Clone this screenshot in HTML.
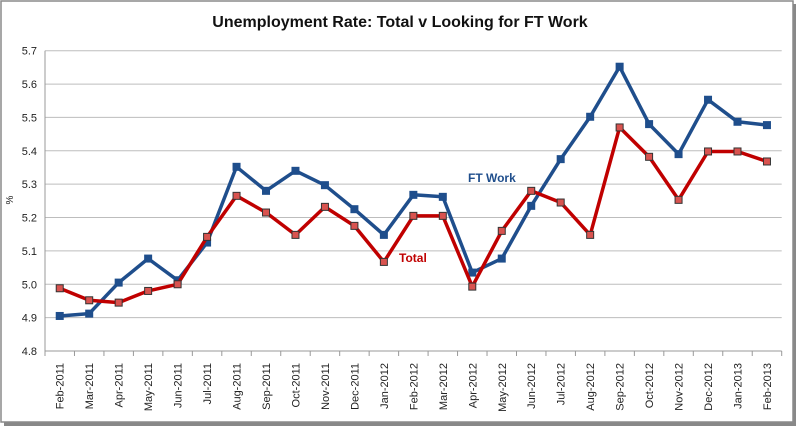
<!DOCTYPE html>
<html><head><meta charset="utf-8"><style>
body{margin:0;background:#fff;width:800px;height:430px;overflow:hidden}
svg{font-family:"Liberation Sans",sans-serif}
</style></head><body>
<svg id="c" width="800" height="430" xmlns="http://www.w3.org/2000/svg">
<rect x="4" y="4" width="792" height="422" fill="#888"/>
<rect x="1" y="1" width="792" height="421" fill="#fff" stroke="#8a8a8a" stroke-width="1.5"/>
<text x="400" y="27" text-anchor="middle" font-size="16" font-weight="bold" fill="#111">Unemployment Rate: Total v Looking for FT Work</text>
<text transform="translate(13,200) rotate(-90)" text-anchor="middle" font-size="10" fill="#222">%</text>
<text x="468" y="182" font-size="12" font-weight="bold" fill="#1f4e8c">FT Work</text>
<text x="399" y="262" font-size="12" font-weight="bold" fill="#c00000">Total</text>
</svg>
<script>
var s=document.getElementById('c'),ns='http://www.w3.org/2000/svg';
function el(n,a){var e=document.createElementNS(ns,n);for(var k in a)e.setAttribute(k,a[k]);s.appendChild(e);return e;}
var L=45,R=781.7,T=50.7,B=351,n=25,w=(R-L)/n;
function Y(v){return B-(v-4.8)/0.9*(B-T);}
for(var i=0;i<=9;i++){var v=4.8+i*0.1,y=Y(v);
 if(i>0)el('line',{x1:L,x2:R,y1:y,y2:y,stroke:'#bdbdbd','stroke-width':1});
 var t=el('text',{x:L-8,y:y+4,'text-anchor':'end','font-size':11,fill:'#222'});t.textContent=v.toFixed(1);}
el('line',{x1:L,x2:L,y1:T,y2:B,stroke:'#999'});el('line',{x1:L,x2:R,y1:B,y2:B,stroke:'#999'});
var m=['Feb-2011','Mar-2011','Apr-2011','May-2011','Jun-2011','Jul-2011','Aug-2011','Sep-2011','Oct-2011','Nov-2011','Dec-2011','Jan-2012','Feb-2012','Mar-2012','Apr-2012','May-2012','Jun-2012','Jul-2012','Aug-2012','Sep-2012','Oct-2012','Nov-2012','Dec-2012','Jan-2013','Feb-2013'];
for(var i=0;i<=n;i++){var x=L+i*w;el('line',{x1:x,x2:x,y1:B,y2:B+5,stroke:'#999'});}
m.forEach(function(l,i){var x=L+(i+.5)*w+4;var t=el('text',{transform:'translate('+x+',363) rotate(-90)','text-anchor':'end','font-size':11,fill:'#222'});t.textContent=l;});
var ft=[4.905,4.912,5.005,5.077,5.012,5.125,5.352,5.28,5.34,5.297,5.225,5.148,5.268,5.262,5.035,5.077,5.235,5.375,5.502,5.652,5.48,5.39,5.553,5.487,5.477];
var tot=[4.988,4.952,4.945,4.98,5.0,5.142,5.265,5.215,5.148,5.232,5.175,5.067,5.205,5.205,4.993,5.16,5.28,5.245,5.148,5.47,5.382,5.253,5.398,5.398,5.368];
function ser(d,c,mf,ms){var p=d.map(function(v,i){return (L+(i+.5)*w).toFixed(1)+','+Y(v).toFixed(1)}).join(' ');
 el('polyline',{points:p,fill:'none',stroke:c,'stroke-width':3.5,'stroke-linejoin':'round'});
 d.forEach(function(v,i){var x=L+(i+.5)*w,y=Y(v);el('rect',{x:x-3.5,y:y-3.5,width:7,height:7,fill:mf,stroke:ms,'stroke-width':1});});}
ser(ft,'#1f4e8c','#1f4e8c','#1f4e8c');
ser(tot,'#c00000','#d9534f','#333');
</script>
</body></html>
